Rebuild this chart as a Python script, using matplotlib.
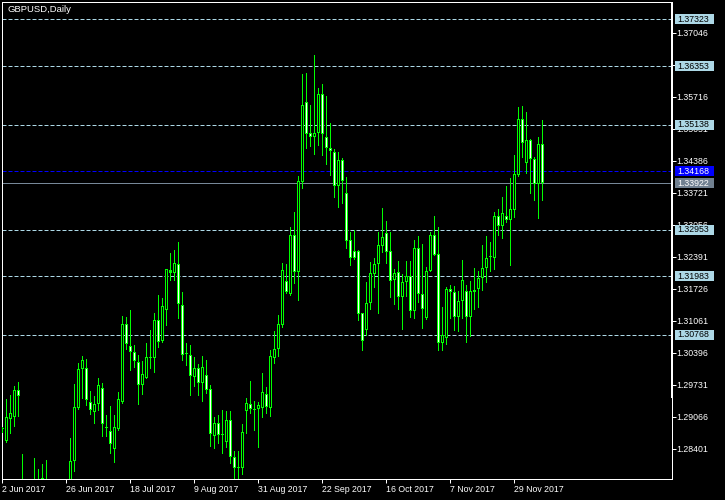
import matplotlib
matplotlib.use("Agg")
import matplotlib.pyplot as plt
import matplotlib.transforms as mtransforms
from matplotlib.patches import Rectangle

plt.rcParams['font.family'] = ['Liberation Sans', 'DejaVu Sans']

chart_title = "GBPUSD,Daily"

opens = [1.2881, 1.28568, 1.29025, 1.29067, 1.29615, 1.2760, 1.2740, 1.2750, 1.2745, 1.2700,
         1.2745, 1.2775, 1.2720, 1.2670, 1.2600, 1.2690, 1.2725, 1.2735, 1.28152, 1.29254,
         1.30052, 1.30072, 1.29366, 1.29158, 1.29324, 1.29657, 1.28821, 1.28763, 1.28389, 1.28817,
         1.29372, 1.30987, 1.30530, 1.30405, 1.30197, 1.29732, 1.29877, 1.30286, 1.30280, 1.31070,
         1.30640, 1.31278, 1.32109, 1.32059, 1.32234, 1.31382, 1.30363, 1.30343, 1.29898, 1.30072,
         1.29773, 1.29927, 1.29636, 1.28672, 1.28936, 1.28686, 1.28547, 1.28998, 1.28223, 1.28007,
         1.28007, 1.29191, 1.29324, 1.29200, 1.29220, 1.29241, 1.29532, 1.29254, 1.30293, 1.30467,
         1.30972, 1.31880, 1.31616, 1.32843, 1.32080, 1.33944, 1.35606, 1.34956, 1.34873, 1.34956,
         1.35773, 1.34873, 1.34650, 1.34574, 1.33861, 1.34401, 1.33709, 1.32732, 1.32504, 1.32510,
         1.31215, 1.30868, 1.31423, 1.32038, 1.32234, 1.32620, 1.32890, 1.32510, 1.31901, 1.32067,
         1.31560, 1.31872, 1.31990, 1.31269, 1.32566, 1.31610, 1.31111, 1.32101, 1.32836, 1.32441,
         1.30592, 1.30696, 1.31714, 1.31652, 1.31132, 1.31471, 1.31679, 1.31145, 1.31658, 1.31714,
         1.31943, 1.32163, 1.32375, 1.32371, 1.33237, 1.33036, 1.33237, 1.33160, 1.33368, 1.34089,
         1.35247, 1.34332, 1.34810, 1.34416, 1.33896, 1.34727]
highs = [1.2886, 1.29434, 1.29518, 1.29705, 1.29788, 1.28291, 1.2770, 1.2770, 1.28208, 1.27980,
         1.28084, 1.28167, 1.2750, 1.2700, 1.2720, 1.2740, 1.2760, 1.28624, 1.29746, 1.30176,
         1.30328, 1.30266, 1.29594, 1.29497, 1.29865, 1.29761, 1.29102, 1.29289, 1.29102, 1.29580,
         1.31159, 1.31138, 1.31284, 1.30557, 1.30349, 1.30224, 1.30592, 1.30868, 1.31222, 1.31596,
         1.31533, 1.32135, 1.32468, 1.32531, 1.32697, 1.31658, 1.30592, 1.30557, 1.30307, 1.30162,
         1.30328, 1.30245, 1.29719, 1.29060, 1.29102, 1.29206, 1.29185, 1.29191, 1.28354, 1.28354,
         1.28915, 1.29449, 1.29808, 1.29393, 1.29366, 1.29975, 1.29684, 1.30453, 1.30848, 1.31180,
         1.32261, 1.32240, 1.33003, 1.33320, 1.34069, 1.36188, 1.36209, 1.35544, 1.36583, 1.35904,
         1.35980, 1.35731, 1.35164, 1.34630, 1.34567, 1.34436, 1.34042, 1.32899, 1.32946, 1.32531,
         1.31220, 1.31866, 1.32288, 1.32371, 1.32911, 1.33397, 1.33133, 1.32899, 1.32136, 1.32302,
         1.32032, 1.32302, 1.32302, 1.32739, 1.32822, 1.32649, 1.32184, 1.32905, 1.33237, 1.33009,
         1.31353, 1.31768, 1.31803, 1.31783, 1.31679, 1.32323, 1.31803, 1.31887, 1.32157, 1.32094,
         1.32635, 1.32822, 1.32697, 1.33320, 1.33383, 1.33632, 1.33861, 1.34021, 1.34505, 1.35502,
         1.35523, 1.35399, 1.34831, 1.34470, 1.34885, 1.35232]
lows = [1.2874, 1.28550, 1.28734, 1.28873, 1.29081, 1.2640, 1.2700, 1.2690, 1.2650, 1.2690,
        1.2720, 1.2715, 1.2660, 1.2590, 1.2590, 1.2680, 1.2700, 1.2715, 1.27944, 1.29227,
        1.29461, 1.29310, 1.29129, 1.28942, 1.29206, 1.28672, 1.28666, 1.28318, 1.28131, 1.28790,
        1.29351, 1.30480, 1.30037, 1.30106, 1.29331, 1.29538, 1.29870, 1.30079, 1.29996, 1.30515,
        1.30620, 1.30972, 1.31914, 1.31907, 1.31118, 1.30245, 1.30141, 1.29518, 1.29698, 1.29518,
        1.29399, 1.29565, 1.28458, 1.28422, 1.28526, 1.28318, 1.28437, 1.28098, 1.27799, 1.27700,
        1.27876, 1.28734, 1.29150, 1.28790, 1.28437, 1.29067, 1.29137, 1.29081, 1.30189, 1.30334,
        1.30937, 1.31631, 1.31596, 1.31851, 1.31492, 1.33825, 1.34657, 1.34692, 1.34532, 1.34713,
        1.34511, 1.34324, 1.34096, 1.33638, 1.33431, 1.33514, 1.32579, 1.32219, 1.32344, 1.31076,
        1.30453, 1.30764, 1.31305, 1.31768, 1.31228, 1.32495, 1.32267, 1.31560, 1.31409, 1.31311,
        1.30895, 1.31581, 1.31145, 1.31111, 1.31456, 1.30904, 1.31105, 1.32095, 1.32421, 1.30453,
        1.30453, 1.30578, 1.31111, 1.30868, 1.30854, 1.31124, 1.30625, 1.30750, 1.31311, 1.31353,
        1.31700, 1.31872, 1.32094, 1.32136, 1.32843, 1.32787, 1.33119, 1.32219, 1.33223, 1.34069,
        1.34457, 1.34137, 1.33722, 1.33570, 1.33202, 1.33570]
closes = [1.2883, 1.29054, 1.29143, 1.29615, 1.29503, 1.2740, 1.2750, 1.2745, 1.2700, 1.2745,
          1.27793, 1.2720, 1.2670, 1.2600, 1.2690, 1.2720, 1.2715, 1.28146, 1.29262, 1.30052,
          1.30239, 1.29407, 1.29200, 1.29337, 1.29719, 1.28909, 1.28825, 1.28493, 1.28846, 1.29428,
          1.30987, 1.30584, 1.30417, 1.30230, 1.29732, 1.29948, 1.30301, 1.30290, 1.31070, 1.30625,
          1.31361, 1.32130, 1.32059, 1.32254, 1.31415, 1.30355, 1.30360, 1.29919, 1.30072, 1.29773,
          1.30093, 1.29628, 1.28713, 1.28936, 1.28680, 1.28680, 1.28998, 1.28223, 1.28007, 1.28015,
          1.28749, 1.29345, 1.29233, 1.29205, 1.29303, 1.29574, 1.29262, 1.30328, 1.30467, 1.30987,
          1.32115, 1.31658, 1.32843, 1.32080, 1.33965, 1.35538, 1.34948, 1.34873, 1.34956, 1.35773,
          1.34935, 1.34644, 1.34582, 1.33861, 1.34401, 1.33971, 1.32724, 1.32371, 1.32371, 1.31207,
          1.30646, 1.31423, 1.32047, 1.32234, 1.32628, 1.32795, 1.32495, 1.31893, 1.32059, 1.31560,
          1.31860, 1.31990, 1.31269, 1.32566, 1.31610, 1.31298, 1.32088, 1.32836, 1.32433, 1.30592,
          1.30758, 1.31714, 1.31652, 1.31132, 1.31471, 1.31907, 1.31145, 1.31679, 1.31700, 1.31943,
          1.32150, 1.32358, 1.32396, 1.33237, 1.33030, 1.33293, 1.33160, 1.33383, 1.34104, 1.35247,
          1.34748, 1.34810, 1.34416, 1.33896, 1.34727, 1.33922]

date_tick_bars = [0, 16, 32, 48, 64, 80, 96, 112, 128]
date_tick_labels = ["2 Jun 2017", "26 Jun 2017", "18 Jul 2017", "9 Aug 2017", "31 Aug 2017",
                    "22 Sep 2017", "16 Oct 2017", "7 Nov 2017", "29 Nov 2017"]
price_ticks = [1.28401, 1.29066, 1.29731, 1.30396, 1.31061, 1.31726, 1.32391, 1.33056,
               1.33721, 1.34386, 1.35051, 1.35716, 1.36381, 1.37046]
level_prices = [1.37323, 1.36353, 1.35138, 1.32953, 1.31983, 1.30768]
blue_level = 1.34168
last_price = 1.33922

# ---- layout (pixels in a 725x500 canvas) ----
W, H = 725, 500
L_PX, R_PX, T_PX, B_PX = 2, 672, 2, 479
BAR_PX = 4.0
FIRST_BAR_PX = 2.4
Y_TOP, Y_BOT = 1.37684, 1.27771

fig = plt.figure(figsize=(W / 100, H / 100), dpi=100, facecolor='black')
ax = fig.add_axes([L_PX / W, 1 - B_PX / H, (R_PX - L_PX) / W, (B_PX - T_PX) / H])
ax.set_facecolor('black')
x0 = (L_PX - FIRST_BAR_PX) / BAR_PX
x1 = (R_PX - FIRST_BAR_PX) / BAR_PX
ax.set_xlim(x0, x1)
ax.set_ylim(Y_BOT, Y_TOP)
px_per_price = (B_PX - T_PX) / (Y_TOP - Y_BOT)
one_px = 1 / px_per_price

LW = 0.72
GREEN = '#00FF00'
LBLUE = '#ADD8E6'

for s in ax.spines.values():
    s.set_color('white')
    s.set_linewidth(LW)
# thicker upper part of the right border
ax.plot([1, 1], [(B_PX - 398) / (B_PX - T_PX), 1], transform=ax.transAxes,
        color='white', lw=2 * LW, clip_on=False, zorder=6, solid_capstyle='butt')

# level lines
for lv in level_prices:
    ax.axhline(lv, color=LBLUE, lw=LW, ls=(0, (4, 2)), zorder=1)
ax.axhline(blue_level, color='#0000FF', lw=LW, ls=(0, (4, 2)), zorder=1)
ax.axhline(last_price, color='#778899', lw=LW, zorder=1)

# candles: wick, 3px green body block, 1px inner fill (black = up, white = down)
n = len(opens)
idx = list(range(n))
ax.vlines(idx, lows, highs, color=GREEN, lw=LW, zorder=3, antialiased=False)
bottoms = [min(o, c) for o, c in zip(opens, closes)]
heights = [max(abs(c - o), one_px) for o, c in zip(opens, closes)]
ax.bar(idx, heights, bottom=bottoms, width=3 / BAR_PX, color=GREEN, linewidth=0,
       zorder=4, antialiased=False)
inner = [(i, b + one_px, h - 2 * one_px, 'black' if c >= o else 'white')
         for i, b, h, o, c in zip(idx, bottoms, heights, opens, closes) if h > 2.5 * one_px]
ax.bar([t[0] for t in inner], [t[2] for t in inner], bottom=[t[1] for t in inner],
       width=1 / BAR_PX, color=[t[3] for t in inner], linewidth=0, zorder=5,
       antialiased=False)

# axes ticks
ax.yaxis.tick_right()
ax.set_yticks(price_ticks)
ax.set_yticklabels([f"{p:.5f}" for p in price_ticks])
ax.tick_params(axis='y', colors='white', labelsize=6.3, length=2.6, width=LW, pad=0.8)
ax.set_xticks(date_tick_bars)
ax.set_xticklabels(date_tick_labels, ha='left')
ax.tick_params(axis='x', colors='white', labelsize=6.3, length=3.0, width=LW, pad=1.0)

# price boxes on right axis
blend = mtransforms.blended_transform_factory(ax.transAxes, ax.transData)
bx0 = (675 - L_PX) / (R_PX - L_PX)
bw = 39 / (R_PX - L_PX)
bh = 10 / px_per_price
tx = (677 - L_PX) / (R_PX - L_PX)
boxes = [(lv, LBLUE, 'black') for lv in level_prices] + \
        [(blue_level, '#0000FF', 'white'), (last_price, '#708090', 'white')]
for lv, fc, tc in boxes:
    ax.add_patch(Rectangle((bx0, lv - bh / 2), bw, bh, transform=blend, facecolor=fc,
                           edgecolor='none', clip_on=False, zorder=7))
    ax.text(tx, lv, f"{lv:.5f}", transform=blend, color=tc, fontsize=6.3,
            va='center', ha='left', zorder=8, clip_on=False)

fig.text(7 / W, 1 - 10 / H, chart_title, color='white', fontsize=6.8, va='center', ha='left')

fig.savefig('out.png', dpi=100, facecolor='black')
